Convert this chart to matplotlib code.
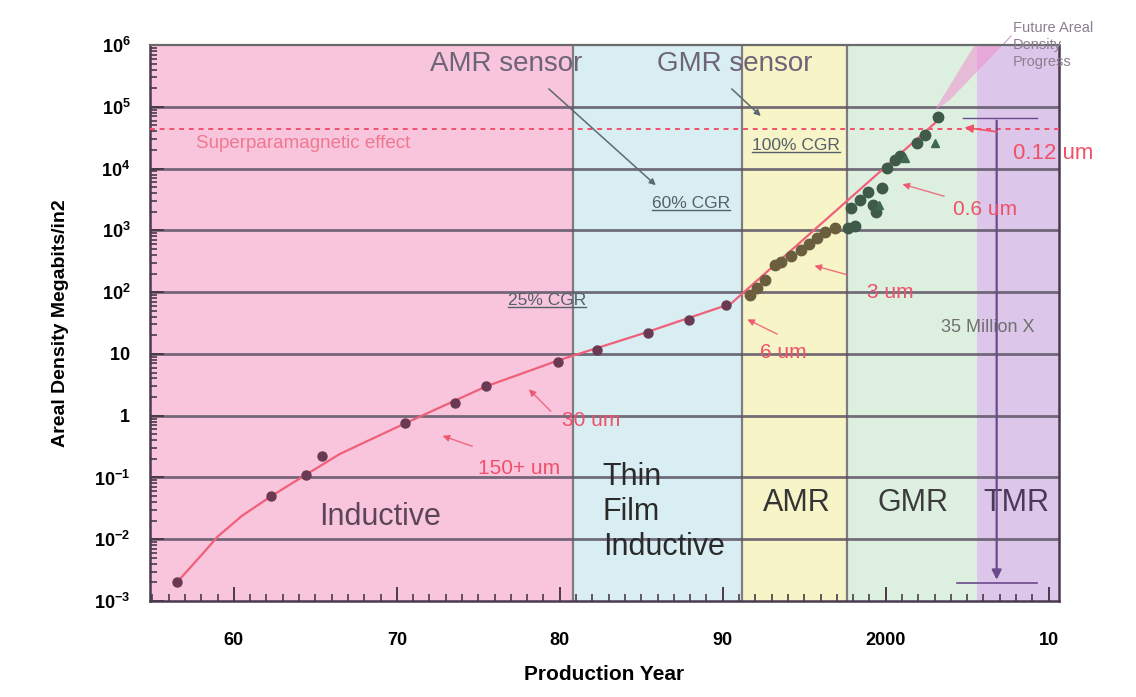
import matplotlib
matplotlib.use("Agg")
import matplotlib.pyplot as plt
from matplotlib.patches import Polygon
from matplotlib.ticker import FixedLocator, LogLocator, NullFormatter

plt.rcParams['font.family'] = ['Liberation Sans', 'DejaVu Sans']
plt.rcParams['mathtext.fontset'] = 'custom'
plt.rcParams['mathtext.bf'] = 'Liberation Sans:bold'
plt.rcParams['mathtext.rm'] = 'Liberation Sans'

# areal density data (Mb/in2) by production year
ind_years = [1956.5, 1962.3, 1964.4, 1965.4, 1970.5, 1973.6, 1975.5, 1979.9]
ind_vals = [0.002, 0.05, 0.11, 0.22, 0.76, 1.6, 3.0, 7.4]
tf_years = [1982.3, 1985.4, 1987.9, 1990.2]
tf_vals = [11.5, 22, 35, 62]
amr_years = [1991.7, 1992.1, 1992.6, 1993.2, 1993.6, 1994.2, 1994.8, 1995.3, 1995.8, 1996.3, 1996.9]
amr_vals = [89, 115, 155, 275, 310, 380, 480, 600, 750, 930, 1100]
gmr_years = [1997.7, 1998.1, 1997.9, 1998.4, 1998.9, 1999.2, 1999.4, 1999.8, 2000.1, 2000.6, 2000.9, 2001.9, 2002.4, 2003.2]
gmr_vals = [1100, 1170, 2300, 3100, 4200, 2600, 1950, 4800, 10200, 13700, 16000, 26000, 35000, 68000]
tri_years = [1999.6, 2001.2, 2003.0]
tri_vals = [2600, 15000, 26000]

trend_years = [1956.5, 1958.0, 1959.0, 1960.5, 1962.3, 1964.4, 1966.5, 1970.5, 1975.5, 1980.0, 1985.0, 1990.5, 2003.2]
trend_vals = [0.002, 0.0055, 0.011, 0.024, 0.05, 0.11, 0.24, 0.75, 3.0, 8, 21, 65, 60000]

superpara = 44000

# head technology eras
eras = ['Inductive', 'Thin\nFilm\nInductive', 'AMR', 'GMR', 'TMR']
era_edges = [1954.85, 1980.8, 1991.2, 1997.6, 2005.6, 2010.62]
era_colors = ['#f8c5dc', '#d9eef3', '#f7f4c8', '#ddf0e0', '#dcc6ea']

xticks = [1960, 1970, 1980, 1990, 2000, 2010]
xtick_labels = ['60', '70', '80', '90', '2000', '10']
yticks = [1e-3, 1e-2, 1e-1, 1, 10, 1e2, 1e3, 1e4, 1e5, 1e6]
ytick_labels = [r'$\mathbf{10^{-3}}$', r'$\mathbf{10^{-2}}$', r'$\mathbf{10^{-1}}$', r'$\mathbf{1}$', r'$\mathbf{10}$',
                r'$\mathbf{10^{2}}$', r'$\mathbf{10^{3}}$', r'$\mathbf{10^{4}}$', r'$\mathbf{10^{5}}$', r'$\mathbf{10^{6}}$']

fig = plt.figure(figsize=(11.36, 6.97), dpi=100)
ax = fig.add_axes([0.132, 0.1377, 0.8, 0.7977])
ax.set_yscale('log')
ax.set_xlim(era_edges[0], era_edges[-1])
ax.set_ylim(1e-3, 1e6)

for i in range(len(eras)):
    ax.axvspan(era_edges[i], era_edges[i + 1], color=era_colors[i], zorder=0, lw=0)
for e in era_edges[1:4]:
    ax.axvline(e, color='#7d7d80', lw=1.6, zorder=1)

for v in yticks[1:-1]:
    ax.axhline(v, color='#5e5566', lw=2.0, alpha=0.85, zorder=1)

# superparamagnetic limit
ax.axhline(superpara, color='#f0506a', lw=1.4, ls=(0, (2.5, 2.5)), zorder=3)
ax.text(1957.7, 10**4.41, 'Superparamagnetic effect', color='#f07890', fontsize=13.5, va='center')

# future progress wedge
wedge = Polygon([(2003.0, 10**4.94), (2005.46, 1e6), (2007.18, 1e6), (2003.9, 10**5.1)],
                closed=True, facecolor='#ee90cc', alpha=0.55, lw=0, zorder=2)
ax.add_patch(wedge)
ax.plot([2007.18, 2007.7], [1e6, 10**6.15], color='#c8a0c8', lw=0.8, clip_on=False)
ax.text(2007.8, 10**6.0, 'Future Areal\nDensity\nProgress', color='#8a8090', fontsize=10.5,
        va='center', ha='left', linespacing=1.25, clip_on=False)

ax.plot(trend_years, trend_vals, color='#f0607a', lw=1.6, zorder=4)
ax.plot(ind_years + tf_years, ind_vals + tf_vals, 'o', color='#6a3a52', ms=6.5, zorder=5)
ax.plot(amr_years, amr_vals, 'o', color='#6b5e3e', ms=7.5, zorder=5)
ax.plot(gmr_years, gmr_vals, 'o', color='#3f5a48', ms=7.5, zorder=5)
ax.plot(tri_years, tri_vals, '^', color='#3f6a50', ms=6, zorder=5)

# 35 million x span
ax.annotate('', xy=(2006.81, 10**-2.7), xytext=(2006.81, 10**4.82),
            arrowprops=dict(arrowstyle='-|>', color='#6a4a8a', lw=1.6, mutation_scale=14), zorder=6)
ax.plot([2004.73, 2009.27], [10**4.82, 10**4.82], color='#6a4a8a', lw=1.0, zorder=6)
ax.plot([2004.4, 2009.27], [10**-2.71, 10**-2.71], color='#6a4a8a', lw=1.2, zorder=6)
ax.text(2006.26, 10**1.43, '35 Million X', color='#707070', fontsize=13, ha='center', va='center')

# feature-size callouts
red = '#f0506a'
callouts = [
    ('150+ um', (1972.64, 10**-0.31), (1974.79, 10**-0.51), (1974.97, 10**-0.85)),
    ('30 um', (1977.98, 10**0.46), (1979.57, 10**0.04), (1980.13, 10**-0.07)),
    ('6 um', (1991.35, 10**1.58), (1993.5, 10**1.30), (1992.27, 10**1.03)),
    ('3 um', (1995.46, 10**2.44), (1997.79, 10**2.27), (1998.84, 10**2.0)),
    ('0.6 um', (2000.86, 10**3.76), (2003.75, 10**3.54), (2004.11, 10**3.33)),
]
for label, tip, tail, pos in callouts:
    ax.annotate('', xy=tip, xytext=tail,
                arrowprops=dict(arrowstyle='-|>', color=red, lw=1.0, alpha=0.8, mutation_scale=10), zorder=6)
    ax.text(pos[0], pos[1], label, color=red, fontsize=15, va='center', ha='left', zorder=6)
ax.annotate('', xy=(2004.67, 10**4.67), xytext=(2007.0, 10**4.59),
            arrowprops=dict(arrowstyle='-|>', color=red, lw=1.2, mutation_scale=12), zorder=6)
ax.text(2007.8, 10**4.25, '0.12 um', color=red, fontsize=16, va='center', ha='left', clip_on=False, zorder=6)

# sensor callouts and growth rates
gray = '#6e6478'
ax.text(1972.03, 10**5.7, 'AMR sensor', color=gray, fontsize=20, va='center', ha='left')
ax.text(1985.95, 10**5.7, 'GMR sensor', color=gray, fontsize=20, va='center', ha='left')
ax.annotate('', xy=(1986.02, 10**3.70), xytext=(1979.2, 10**5.32),
            arrowprops=dict(arrowstyle='-|>', color='#5a6a70', lw=1.1, mutation_scale=9), zorder=6)
ax.annotate('', xy=(1992.46, 10**4.82), xytext=(1990.43, 10**5.32),
            arrowprops=dict(arrowstyle='-|>', color='#5a6a70', lw=1.1, mutation_scale=9), zorder=6)
cgr_texts = []
for label, x, lv in [('60% CGR', 1985.65, 3.44), ('100% CGR', 1991.78, 4.38), ('25% CGR', 1976.81, 1.87)]:
    cgr_texts.append(ax.text(x, 10**lv, label, color='#55606a', fontsize=12.5, va='center', ha='left', zorder=6))

# era names
ax.text(1968.96, 10**-1.64, eras[0], color='#5a4658', fontsize=22, ha='center', va='center')
ax.text(1982.64, 10**-1.56, eras[1], color='#2a2a2a', fontsize=22, ha='left', va='center', linespacing=1.22)
ax.text(1994.54, 10**-1.41, eras[2], color='#353535', fontsize=22, ha='center', va='center')
ax.text(2001.66, 10**-1.41, eras[3], color='#3c3c3c', fontsize=22, ha='center', va='center')
ax.text(2008.04, 10**-1.41, eras[4], color='#4a3a5a', fontsize=22, ha='center', va='center')

ax.xaxis.set_major_locator(FixedLocator(xticks))
ax.set_xticklabels(xtick_labels, fontsize=13, fontweight='bold')
ax.xaxis.set_minor_locator(FixedLocator(list(range(1955, 2011))))
ax.yaxis.set_major_locator(FixedLocator(yticks))
ax.set_yticklabels(ytick_labels, fontsize=13)
ax.yaxis.set_minor_locator(LogLocator(base=10, subs=range(2, 10)))
ax.yaxis.set_minor_formatter(NullFormatter())
ax.tick_params(axis='both', which='major', direction='in', length=10, width=1.4, color='#4a3a48')
ax.tick_params(axis='both', which='minor', direction='in', length=5, width=1.2, color='#4a3a48')
ax.tick_params(axis='x', which='major', pad=22)
ax.tick_params(axis='y', which='major', pad=14)

for side in ['left', 'bottom', 'right']:
    ax.spines[side].set_color('#4a3a50')
    ax.spines[side].set_linewidth(1.8)
ax.spines['top'].set_color('#6a6a6a')
ax.spines['top'].set_linewidth(1.6)

ax.set_xlabel('Production Year', fontsize=15, fontweight='bold', labelpad=12)
ax.set_ylabel('Areal Density Megabits/in2', fontsize=14, fontweight='bold', labelpad=18)

# underline the growth-rate labels
fig.canvas.draw()
renderer = fig.canvas.get_renderer()
inv = ax.transData.inverted()
for t in cgr_texts:
    bb = t.get_window_extent(renderer)
    (x0, y0), (x1, _) = inv.transform([(bb.x0, bb.y0 + 1), (bb.x1, bb.y0 + 1)])
    ax.plot([x0, x1], [y0, y0], color='#55606a', lw=1.0, zorder=6)

fig.savefig('out.png', dpi=100)
